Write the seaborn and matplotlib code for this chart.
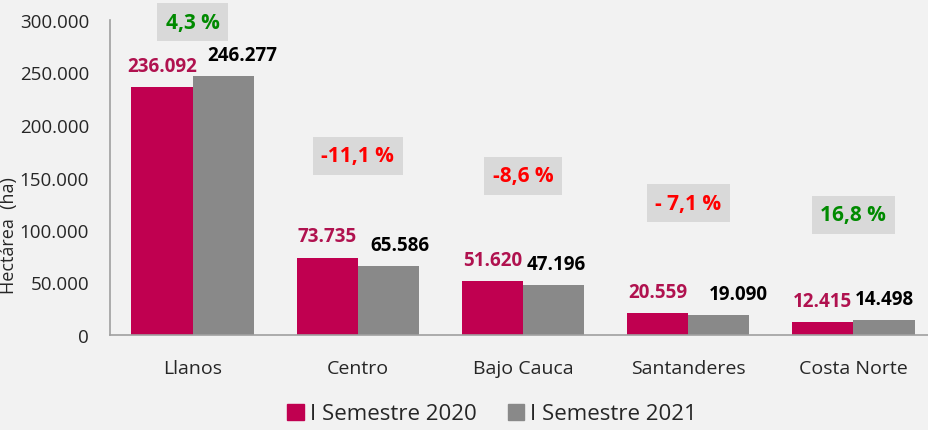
import pandas as pd
import matplotlib.pyplot as plt
import seaborn as sns

# data
regions = ['Llanos', 'Centro', 'Bajo Cauca', 'Santanderes', 'Costa Norte']
sem_2020 = [236092, 73735, 51620, 20559, 12415]
sem_2021 = [246277, 65586, 47196, 19090, 14498]
labels_2020 = ['236.092', '73.735', '51.620', '20.559', '12.415']
labels_2021 = ['246.277', '65.586', '47.196', '19.090', '14.498']
changes = ['4,3 %', '-11,1 %', '-8,6 %', '- 7,1 %', '16,8 %']
change_colors = ['#008A00', '#FF0000', '#FF0000', '#FF0000', '#008A00']
yticks = [0, 50000, 100000, 150000, 200000, 250000, 300000]
ytick_labels = ['0', '50.000', '100.000', '150.000', '200.000', '250.000', '300.000']

# layout tweaks (label / box placement)
box_y = [298000, 170500, 151500, 125700, 114300]
gray_dx = [14, 8, 2, 14, 0]

df = pd.DataFrame({
    'Region': regions * 2,
    'Hectareas': sem_2020 + sem_2021,
    'Periodo': ['I Semestre 2020'] * 5 + ['I Semestre 2021'] * 5,
})

sns.set_style('white')
plt.rcParams['font.family'] = ['Open Sans', 'DejaVu Sans']
bg = '#F2F2F2'
magenta = '#C00050'
gray = '#898989'

fig = plt.figure(figsize=(9.29, 4.31), dpi=100, facecolor=bg)
ax = fig.add_axes([110 / 929, 95 / 431, 826 / 929, 315 / 431])
ax.set_facecolor(bg)

sns.barplot(data=df, x='Region', y='Hectareas', hue='Periodo',
            palette=[magenta, gray], width=0.74, gap=0, saturation=1,
            edgecolor='none', legend=False, ax=ax)

ax.set_ylim(0, 300000)
ax.set_xlim(-0.5, 4.5)
ax.set_yticks(yticks)
ax.set_yticklabels(ytick_labels)
ax.tick_params(axis='y', length=0, pad=15, labelsize=13.5)
ax.tick_params(axis='x', length=0, pad=17, labelsize=14)
ax.set_xlabel('')
ax.set_ylabel('Hectárea  (ha)', fontsize=13)
ax.yaxis.set_label_coords(-0.111, 0.32)
sns.despine(ax=ax)
for s in ['left', 'bottom']:
    ax.spines[s].set_color('#A0A0A0')
    ax.spines[s].set_linewidth(1.2)

bw = 0.37
for i in range(len(regions)):
    ax.annotate(labels_2020[i], (i - bw / 2, sem_2020[i]), xytext=(0, 8),
                textcoords='offset points', ha='center', va='bottom',
                fontsize=13.5, fontweight='bold', color='#B0124F')
    ax.annotate(labels_2021[i], (i + bw / 2, sem_2021[i]), xytext=(gray_dx[i], 8),
                textcoords='offset points', ha='center', va='bottom',
                fontsize=13.5, fontweight='bold', color='black')
    ax.text(i, box_y[i], changes[i], ha='center', va='center', fontsize=15,
            fontweight='bold', color=change_colors[i],
            bbox=dict(boxstyle='square,pad=0.4', facecolor='#D9D9D9', edgecolor='none'))

handles = [plt.Rectangle((0, 0), 1, 1, color=magenta),
           plt.Rectangle((0, 0), 1, 1, color=gray)]
fig.legend(handles, ['I Semestre 2020', 'I Semestre 2021'], loc='center',
           bbox_to_anchor=(492 / 929, 1 - 415 / 431), ncol=2, frameon=False,
           fontsize=16, handlelength=0.75, handleheight=0.75, handletextpad=0.25,
           columnspacing=1.4, borderpad=0.2)

plt.savefig('out.png', dpi=100, facecolor=bg)
